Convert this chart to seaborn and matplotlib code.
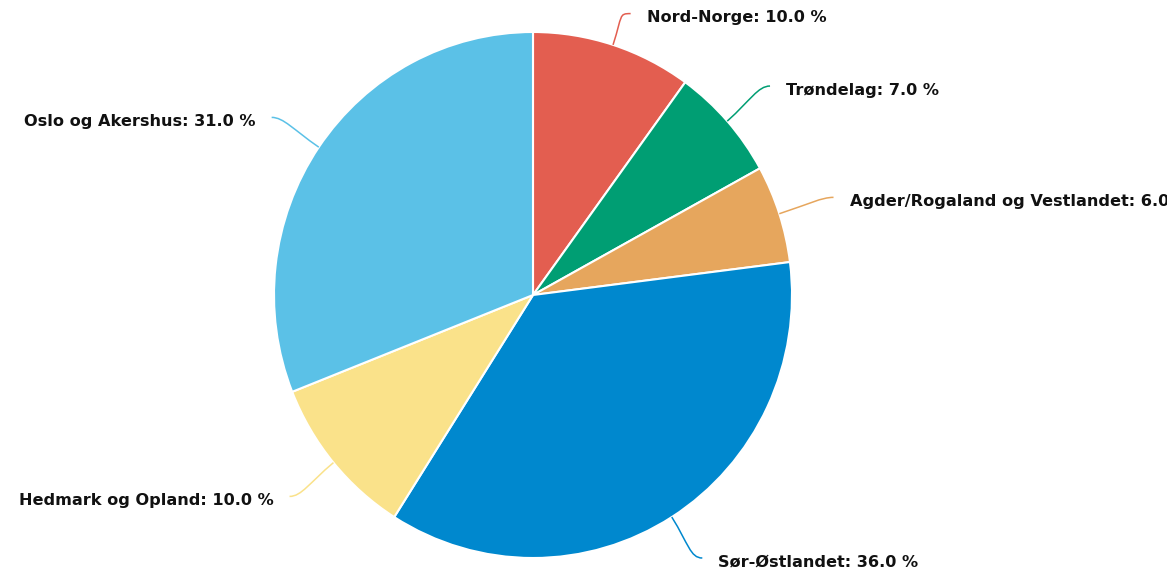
import numpy as np
import matplotlib
matplotlib.use("Agg")
import matplotlib.pyplot as plt
from matplotlib.path import Path
from matplotlib.patches import PathPatch
import seaborn as sns

regions = ["Nord-Norge", "Trøndelag", "Agder/Rogaland og Vestlandet",
           "Sør-Østlandet", "Hedmark og Opland", "Oslo og Akershus"]
shares = [10.0, 7.0, 6.0, 36.0, 10.0, 31.0]
colors = ["#E35E50", "#009E73", "#E6A65D", "#0088CE", "#FAE28A", "#5BC1E7"]

sns.set_theme(style="white")
plt.rcParams['font.family'] = ['DejaVu Sans']

W, H = 1167, 574
cx, cy, rx, ry = 533, 295, 259, 263
fig = plt.figure(figsize=(W / 100, H / 100), dpi=100)
ax = fig.add_axes([(cx - rx) / W, (H - cy - ry) / H, 2 * rx / W, 2 * ry / H])

wedges, _ = ax.pie(shares, colors=colors, startangle=90, counterclock=False,
                   radius=1.0, wedgeprops=dict(edgecolor="white", linewidth=1.5))
ax.set_xlim(-1, 1)
ax.set_ylim(-1, 1)
ax.set_aspect("auto")
ax.axis("off")

pxx, pxy = 1.0 / rx, 1.0 / ry  # one pixel in data units
for w, name, val, col in zip(wedges, regions, shares, colors):
    mid = np.deg2rad((w.theta1 + w.theta2) / 2)
    x0, y0 = np.cos(mid), np.sin(mid)
    ex, ey = 1.22 * x0, 1.22 * y0 * rx / ry
    ey = min(max(ey, -1.0), 1.07)
    side = 1 if x0 >= 0 else -1
    # connector: leaves the slice radially, ends horizontally at the label
    c1 = (1.12 * x0, 1.12 * y0)
    c2 = (ex - side * 12 * pxx, ey)
    path = Path([(x0, y0), c1, c2, (ex, ey)],
                [Path.MOVETO, Path.CURVE4, Path.CURVE4, Path.CURVE4])
    ax.add_patch(PathPatch(path, fill=False, edgecolor=col, lw=1.1, clip_on=False))
    ax.text(ex + side * 16 * pxx, ey - 4 * pxy, f"{name}: {val:.1f} %",
            ha="left" if side > 0 else "right", va="center",
            fontsize=11.6, fontweight="bold", color="#111111", clip_on=False)

fig.savefig("out.png", dpi=100)
